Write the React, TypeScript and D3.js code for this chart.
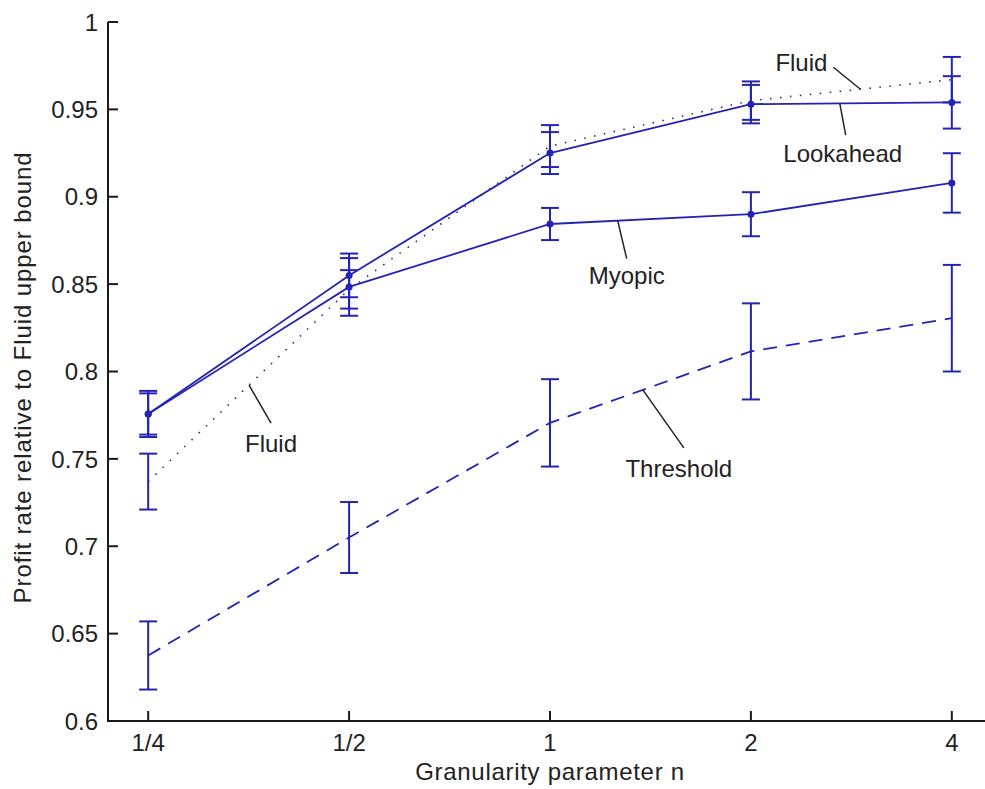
import * as d3 from "d3";

const categories = ["1/4", "1/2", "1", "2", "4"];
const yTicks = [0.6, 0.65, 0.7, 0.75, 0.8, 0.85, 0.9, 0.95, 1];

const lookahead = [0.7757, 0.855, 0.925, 0.953, 0.954];
const lookaheadErr = [0.0118, 0.0125, 0.012, 0.011, 0.015];
const myopic = [0.7757, 0.8484, 0.8844, 0.89, 0.9079];
const myopicErr = [0.0132, 0.0165, 0.0092, 0.0126, 0.017];
const fluid = [0.737, 0.847, 0.929, 0.955, 0.967];
const fluidErr = [0.016, 0.011, 0.012, 0.011, 0.013];
const threshold = [0.6375, 0.705, 0.7706, 0.8115, 0.8305];
const thresholdErr = [0.0195, 0.0203, 0.025, 0.0275, 0.0305];

// label text, point on the curve (category index, value), leader end offset, text baseline offset
const notes = [
  { text: "Fluid", at: [3.545, 0.9615], lead: [-27, -22], label: [-59, -18] },
  { text: "Lookahead", at: [3.442, 0.9536], lead: [6, 32], label: [3, 59] },
  { text: "Myopic", at: [2.337, 0.8863], lead: [9, 38], label: [9, 63] },
  { text: "Threshold", at: [2.462, 0.7895], lead: [41, 58], label: [36, 87] },
  { text: "Fluid", at: [0.502, 0.7922], lead: [22, 38], label: [22, 67] },
];

const width = 985;
const height = 789;
const blue = "#2424b4";
const font = "'Liberation Sans', Arial, sans-serif";

export default function App() {
  const x = d3.scaleLinear([-0.2, 4.2], [108, 992]);
  const y = d3.scaleLinear([0.6, 1], [721, 22]);
  const line = d3
    .line<number>()
    .x((_, i) => x(i))
    .y((d) => y(d));

  const errBars = (vals: number[], errs: number[]) =>
    vals.map((v, i) => (
      <g key={i} stroke={blue} strokeWidth={2} fill="none">
        <line x1={x(i)} x2={x(i)} y1={y(v + errs[i])} y2={y(v - errs[i])} />
        <line x1={x(i) - 9} x2={x(i) + 9} y1={y(v + errs[i])} y2={y(v + errs[i])} />
        <line x1={x(i) - 9} x2={x(i) + 9} y1={y(v - errs[i])} y2={y(v - errs[i])} />
      </g>
    ));

  return (
    <svg
      width={width}
      height={height}
      style={{ position: "absolute", left: 0, top: 0, background: "#fff" }}
      fontFamily={font}
    >
      {/* axes */}
      <g stroke="#1a1a1a" strokeWidth={2}>
        <line x1={108} x2={108} y1={y(1)} y2={y(0.6) + 1} />
        <line x1={107} x2={992} y1={y(0.6)} y2={y(0.6)} />
        {yTicks.map((t) => (
          <line key={t} x1={108} x2={118} y1={y(t)} y2={y(t)} />
        ))}
        {categories.map((c, i) => (
          <line key={c} x1={x(i)} x2={x(i)} y1={y(0.6)} y2={y(0.6) - 10} />
        ))}
      </g>
      <g fontSize={24} fill="#222">
        {yTicks.map((t) => (
          <text key={t} x={98} y={y(t)} dy="0.36em" textAnchor="end">
            {String(t)}
          </text>
        ))}
        {categories.map((c, i) => (
          <text key={c} x={x(i)} y={751} textAnchor="middle">
            {c}
          </text>
        ))}
        <text x={550} y={780} textAnchor="middle" letterSpacing={0.7}>
          Granularity parameter n
        </text>
        <text
          transform={`translate(31,${(y(1) + y(0.6)) / 2 + 6}) rotate(-90)`}
          textAnchor="middle"
          letterSpacing={0.9}
        >
          Profit rate relative to Fluid upper bound
        </text>
      </g>

      {/* series */}
      <g fill="none">
        <path d={line(fluid)!} stroke="#2a2a70" strokeWidth={1.6} strokeDasharray="1.5 8.5" />
        <path d={line(threshold)!} stroke={blue} strokeWidth={1.8} strokeDasharray="14 9" />
        <path d={line(myopic)!} stroke={blue} strokeWidth={1.8} />
        <path d={line(lookahead)!} stroke={blue} strokeWidth={1.8} />
      </g>
      {errBars(fluid, fluidErr)}
      {errBars(threshold, thresholdErr)}
      {errBars(myopic, myopicErr)}
      {errBars(lookahead, lookaheadErr)}
      <g fill={blue}>
        {myopic.map((v, i) => (
          <circle key={"m" + i} cx={x(i)} cy={y(v)} r={3.5} />
        ))}
        {lookahead.map((v, i) => (
          <circle key={"l" + i} cx={x(i)} cy={y(v)} r={3.5} />
        ))}
      </g>

      {/* annotations */}
      {notes.map((n, k) => {
        const px = x(n.at[0]);
        const py = y(n.at[1]);
        return (
          <g key={k}>
            <line
              x1={px}
              y1={py}
              x2={px + n.lead[0]}
              y2={py + n.lead[1]}
              stroke="#222"
              strokeWidth={1.5}
            />
            <text
              x={px + n.label[0]}
              y={py + n.label[1]}
              textAnchor="middle"
              fontSize={24}
              fill="#222"
            >
              {n.text}
            </text>
          </g>
        );
      })}
    </svg>
  );
}
